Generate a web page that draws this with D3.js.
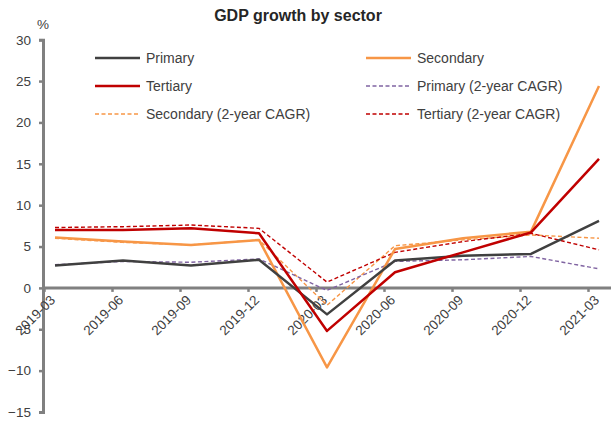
<!DOCTYPE html>
<html>
<head>
<meta charset="utf-8">
<script src="https://cdn.jsdelivr.net/npm/d3@7"></script>
<style>
  html, body { margin: 0; padding: 0; background: #fff; }
  svg { display: block; font-family: "Liberation Sans", Arial, sans-serif; }
</style>
</head>
<body>
<svg id="chart" width="614" height="421"></svg>
<script>
// Quarterly real GDP growth, % y/y
const quarters = ["2019-03", "2019-06", "2019-09", "2019-12", "2020-03", "2020-06", "2020-09", "2020-12", "2021-03"];
const primary = [2.7, 3.3, 2.7, 3.4, -3.2, 3.3, 3.9, 4.1, 8.1];
const secondary = [6.1, 5.6, 5.2, 5.8, -9.6, 4.7, 6.0, 6.8, 24.4];
const tertiary = [7.0, 7.0, 7.2, 6.6, -5.2, 1.9, 4.3, 6.7, 15.6];
const primaryCagr = [2.8, 3.2, 3.1, 3.5, -0.3, 3.2, 3.4, 3.8, 2.3];
const secondaryCagr = [6.0, 5.5, 5.2, 5.8, -2.1, 5.1, 5.8, 6.4, 6.0];
const tertiaryCagr = [7.3, 7.4, 7.6, 7.2, 0.7, 4.3, 5.6, 6.6, 4.6];
const yTicks = [30, 25, 20, 15, 10, 5, 0, -5, -10, -15];

const series = [
  { name: "Primary", values: primary, color: "#404040", dashed: false },
  { name: "Secondary", values: secondary, color: "#F79646", dashed: false },
  { name: "Tertiary", values: tertiary, color: "#C00000", dashed: false },
  { name: "Primary (2-year CAGR)", values: primaryCagr, color: "#8064A2", dashed: true },
  { name: "Secondary (2-year CAGR)", values: secondaryCagr, color: "#F79646", dashed: true },
  { name: "Tertiary (2-year CAGR)", values: tertiaryCagr, color: "#C00000", dashed: true }
];

const svg = d3.select("#chart");
const axisColor = "#808080";
const textColor = "#404040";

const x = d3.scalePoint().domain(quarters).range([55, 599]);
const y = d3.scaleLinear().domain([-15, 30]).range([412, 39.7]);
const tickShift = -11;

// Title and unit
svg.append("text")
  .attr("x", 298).attr("y", 21)
  .attr("text-anchor", "middle")
  .attr("font-size", 16).attr("font-weight", "bold")
  .attr("fill", "#262626")
  .text("GDP growth by sector");

svg.append("text")
  .attr("x", 43).attr("y", 29)
  .attr("text-anchor", "middle")
  .attr("font-size", 13.5).attr("fill", textColor)
  .text("%");

// Y axis
const yAxis = d3.axisLeft(y).tickValues(yTicks).tickSize(4).tickPadding(8).tickFormat(d3.format("d"));
const gy = svg.append("g").attr("transform", "translate(43,0)").call(yAxis);
gy.select(".domain").attr("stroke", axisColor).attr("stroke-width", 3);
gy.selectAll(".tick line").attr("stroke", axisColor).attr("stroke-width", 2.5);
gy.selectAll(".tick text").attr("fill", textColor).attr("font-size", 13.5)
  .attr("font-family", "Liberation Sans, Arial, sans-serif");

// X axis along zero
const xAxis = d3.axisBottom(x).tickSize(4).tickSizeOuter(0).tickFormat("");
const gx = svg.append("g").attr("transform", `translate(0,${y(0)})`).call(xAxis);
gx.select(".domain").attr("d", `M43,0H611`).attr("stroke", axisColor).attr("stroke-width", 3);
gx.selectAll(".tick line").attr("transform", `translate(${tickShift},0)`)
  .attr("stroke", axisColor).attr("stroke-width", 2.5);

// Rotated category labels
svg.append("g").selectAll("text")
  .data(quarters)
  .join("text")
  .attr("transform", d => `translate(${x(d) + 1},${y(0) + 13}) rotate(-45)`)
  .attr("text-anchor", "end")
  .attr("font-size", 13.5)
  .attr("fill", textColor)
  .text(d => d);

// Lines
const line = d3.line()
  .x((d, i) => x(quarters[i]))
  .y(d => y(d));

const lineOrder = [4, 5, 3, 1, 0, 2];
svg.append("g").selectAll("path")
  .data(lineOrder.map(i => series[i]))
  .join("path")
  .attr("d", s => line(s.values))
  .attr("fill", "none")
  .attr("stroke", s => s.color)
  .attr("stroke-width", s => s.dashed ? 1.4 : 2.5)
  .attr("stroke-dasharray", s => s.dashed ? "4,2.5" : null)
  .attr("stroke-linejoin", "round");

// Legend
const legendPos = [
  [95, 58], [366, 58],
  [95, 86], [366, 86],
  [95, 114], [366, 114]
];
const legendOrder = [0, 1, 2, 3, 4, 5];
const lg = svg.append("g").selectAll("g")
  .data(legendOrder)
  .join("g")
  .attr("transform", (d, i) => `translate(${legendPos[i][0]},${legendPos[i][1]})`);
lg.append("line")
  .attr("x1", 0).attr("x2", 45).attr("y1", 0).attr("y2", 0)
  .attr("stroke", d => series[d].color)
  .attr("stroke-width", d => series[d].dashed ? 1.4 : 2.5)
  .attr("stroke-dasharray", d => series[d].dashed ? "4,2.5" : null);
lg.append("text")
  .attr("x", 51).attr("y", 5)
  .attr("font-size", 14)
  .attr("fill", textColor)
  .text(d => series[d].name);
</script>
</body>
</html>
